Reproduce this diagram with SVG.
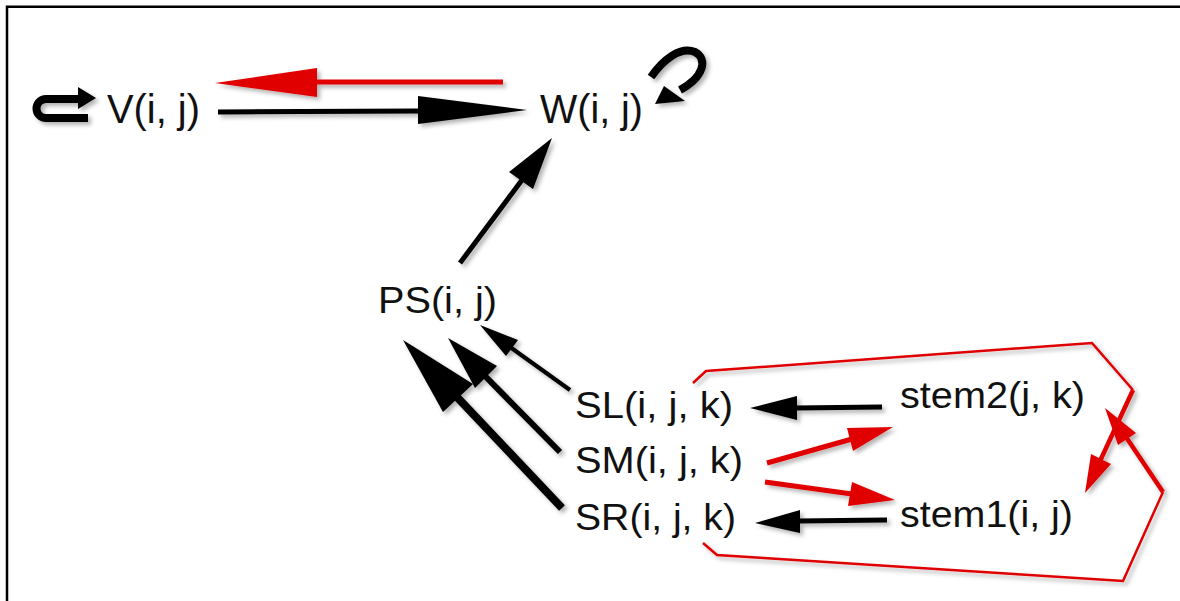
<svg xmlns="http://www.w3.org/2000/svg" width="1180" height="601" viewBox="0 0 1180 601">
<defs>
<filter id="sh" x="-20%" y="-20%" width="140%" height="140%">
<feDropShadow dx="3" dy="3" stdDeviation="2" flood-color="#000" flood-opacity="0.3"/>
</filter>
<style>
.lbl{font-family:"Liberation Sans",Arial,sans-serif;fill:#111}
.big{font-size:40px}
.sm{font-size:36px}
.bl{stroke:#000;fill:none;stroke-linecap:butt}
.rd{stroke:#e00000;fill:none}
.bh{fill:#000;stroke:none}
.rh{fill:#e00000;stroke:none}
.frame{fill:none;stroke:#000;stroke-width:2.5}
</style>
</defs>
<rect width="1180" height="601" fill="#fff"/>
<path class="frame" d="M7 601 V6.7 H1180"/>

<g id="connectors" filter="url(#sh)">
<!-- W -> V (red) -->
<line class="rd" x1="503" y1="82" x2="315" y2="82" stroke-width="5"/>
<polygon class="rh" points="317,68 215,83 317,97"/>
<!-- V -> W (black) -->
<line class="bl" x1="218" y1="112" x2="420" y2="111" stroke-width="5"/>
<polygon class="bh" points="418,96 527,110 418,124"/>
<!-- V self loop -->
<path class="bl" d="M88 118 H46 A9.5 9.5 0 0 1 46 99 H80" stroke-width="8"/>
<polygon class="bh" points="78,87 96,98 78,109"/>
<!-- W self loop -->
<path class="bl" d="M651 77 C663 60 680 46 695 52 C708 59 704 77 680 90" stroke-width="8"/>
<polygon class="bh" points="664,86 655,104 685,101"/>
<!-- PS -> W -->
<line class="bl" x1="460" y1="263" x2="522" y2="180" stroke-width="5"/>
<polygon class="bh" points="509,172 552,138 533,189"/>
<!-- SL -> PS -->
<line class="bl" x1="570" y1="390" x2="510" y2="347" stroke-width="4"/>
<polygon class="bh" points="518,340 480,325 506,356"/>
<!-- SM -> PS -->
<line class="bl" x1="560" y1="452" x2="484" y2="375" stroke-width="6"/>
<polygon class="bh" points="497,366 448,338 475,388"/>
<!-- SR -> PS -->
<line class="bl" x1="562" y1="508" x2="456" y2="396" stroke-width="8"/>
<polygon class="bh" points="473,384 403,340 443,412"/>
<!-- stem2 -> SL -->
<line class="bl" x1="882" y1="407" x2="795" y2="408" stroke-width="5"/>
<polygon class="bh" points="797,396 750,408 797,420"/>
<!-- stem1 -> SR -->
<line class="bl" x1="887" y1="520" x2="798" y2="521" stroke-width="5"/>
<polygon class="bh" points="800,510 755,523 800,533"/>
<!-- SM -> stem2 (red) -->
<line class="rd" x1="767" y1="463" x2="852" y2="439" stroke-width="5"/>
<polygon class="rh" points="847,428 893,427 853,451"/>
<!-- SM -> stem1 (red) -->
<line class="rd" x1="765" y1="482" x2="852" y2="494" stroke-width="5"/>
<polygon class="rh" points="852,482 895,500 848,506"/>
<!-- red outline top -> stem1 -->
<path class="rd" d="M693 383 L706 371 L1092 343 L1133 390" stroke-width="2.5"/>
<line class="rd" x1="1133" y1="390" x2="1100" y2="461" stroke-width="4.5"/>
<polygon class="rh" points="1111,464 1085,493 1091,454"/>
<!-- red outline bottom -> stem2 -->
<path class="rd" d="M703 543 L717 555 L1123 581 L1163 492" stroke-width="2.5"/>
<line class="rd" x1="1163" y1="492" x2="1126" y2="437" stroke-width="4.5"/>
<polygon class="rh" points="1136,433 1105,408 1118,445"/>
</g>

<g id="node-V"><text class="lbl big" x="107" y="123" textLength="93" lengthAdjust="spacingAndGlyphs">V(i, j)</text></g>
<g id="node-W"><text class="lbl big" x="540" y="123" textLength="103" lengthAdjust="spacingAndGlyphs">W(i, j)</text></g>
<g id="node-PS"><text class="lbl sm" x="378" y="313" textLength="119" lengthAdjust="spacingAndGlyphs">PS(i, j)</text></g>
<g id="node-SL"><text class="lbl sm" x="575" y="418" textLength="158" lengthAdjust="spacingAndGlyphs">SL(i, j, k)</text></g>
<g id="node-SM"><text class="lbl sm" x="575" y="473" textLength="168" lengthAdjust="spacingAndGlyphs">SM(i, j, k)</text></g>
<g id="node-SR"><text class="lbl sm" x="575" y="530" textLength="161" lengthAdjust="spacingAndGlyphs">SR(i, j, k)</text></g>
<g id="node-stem2"><text class="lbl sm" x="900" y="408" textLength="185" lengthAdjust="spacingAndGlyphs">stem2(j, k)</text></g>
<g id="node-stem1"><text class="lbl sm" x="900" y="527" textLength="173" lengthAdjust="spacingAndGlyphs">stem1(i, j)</text></g>
</svg>
